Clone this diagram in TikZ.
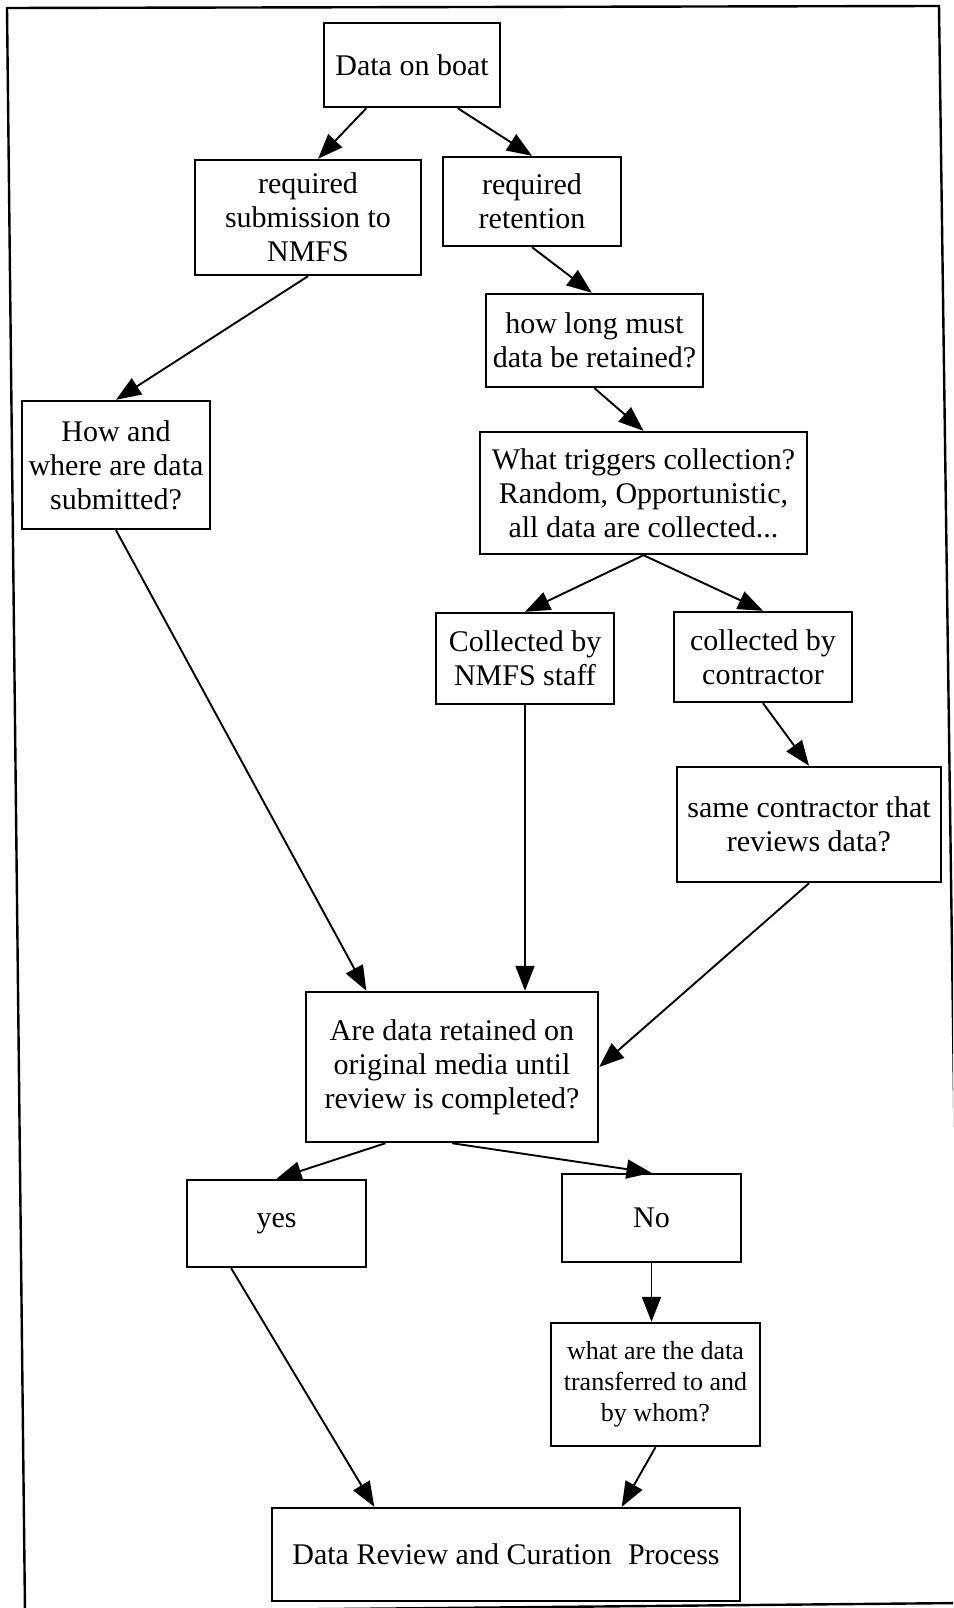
\documentclass[tikz,border=0pt]{standalone}
\usepackage{fontspec}
\setmainfont{Liberation Serif}
\usetikzlibrary{arrows.meta,calc}
\begin{document}
\begin{tikzpicture}[x=1pt,y=-1pt,
  box/.style={draw,line width=2.4pt,inner sep=0pt,align=center,
    font=\fontsize{30}{34}\selectfont},
  conn/.style={line width=1.9pt,-{Triangle[length=25pt,width=19pt]}}]
\useasboundingbox (0,0) rectangle (953,1608);
\begin{scope}
\clip (0,0) rectangle (953,1608);
\draw[line width=2.4pt] (7,8) -- (939,6) -- (961,1603) -- (25,1612) -- cycle;
\end{scope}
\node[box,minimum width=176pt,minimum height=84pt] (boat) at (412,65) {Data on boat};
\node[box,minimum width=226pt,minimum height=115pt] (sub) at (308,217.5) {required\\submission to\\NMFS};
\node[box,minimum width=178pt,minimum height=89pt] (ret) at (532,201.5) {required\\retention};
\node[box,minimum width=217pt,minimum height=93pt] (long) at (594.5,340.5) {how long must\\data be retained?};
\node[box,minimum width=188pt,minimum height=128pt] (how) at (116,465) {How and\\where are data\\submitted?};
\node[box,minimum width=327pt,minimum height=122pt] (trig) at (643.5,493) {What triggers collection?\\Random, Opportunistic,\\all data are collected...};
\node[box,minimum width=178pt,minimum height=91pt] (staff) at (525,658.5) {Collected by\\NMFS staff};
\node[box,minimum width=178pt,minimum height=90pt] (contr) at (763,657) {collected by\\contractor};
\node[box,minimum width=264pt,minimum height=115pt] (same) at (809,824.5) {same contractor that\\reviews data?};
\node[box,minimum width=292pt,minimum height=150pt] (are) at (452,1067) {Are data retained on\\original media until\\review is completed?};
\node[box,minimum width=179pt,minimum height=87pt] (yes) at (276.5,1223.5) {yes};
\node[box,minimum width=179pt,minimum height=88pt] (no) at (651.5,1218) {No};
\node[box,minimum width=209pt,minimum height=123pt,font=\fontsize{26}{31}\selectfont] (what) at (655.5,1384.5) {what are the data\\transferred to and\\by whom?};
\node[box,minimum width=468pt,minimum height=93pt] (dr) at (506,1554.5) {Data Review and Curation\hspace{0.3em} Process};

\draw[conn] ($(boat.south west)!0.244!(boat.south east)$) -- ($(sub.north west)!0.544!(sub.north east)$);
\draw[conn] ($(boat.south west)!0.756!(boat.south east)$) -- (ret.north);
\draw[conn] (ret.south) -- ($(long.north west)!0.488!(long.north east)$);
\draw[conn] (sub.south) -- (how.north);
\draw[conn] (long.south) -- (trig.north);
\draw[conn] (trig.south) -- (staff.north);
\draw[conn] (trig.south) -- (contr.north);
\draw[conn] (contr.south) -- (same.north);
\draw[conn] (how.south) -- ($(are.north west)!0.209!(are.north east)$);
\draw[conn] (staff.south) -- (staff.south |- are.north);
\draw[conn] (same.south) -- (are.east);
\draw[conn] ($(are.south west)!0.274!(are.south east)$) -- (yes.north);
\draw[conn] (are.south) -- (no.north);
\draw[conn] (no.south) -- (no.south |- what.north);
\draw[conn] ($(yes.south west)!0.25!(yes.south east)$) -- ($(dr.north west)!0.22!(dr.north east)$);
\draw[conn] (what.south) -- ($(dr.north west)!0.746!(dr.north east)$);
\end{tikzpicture}
\end{document}
